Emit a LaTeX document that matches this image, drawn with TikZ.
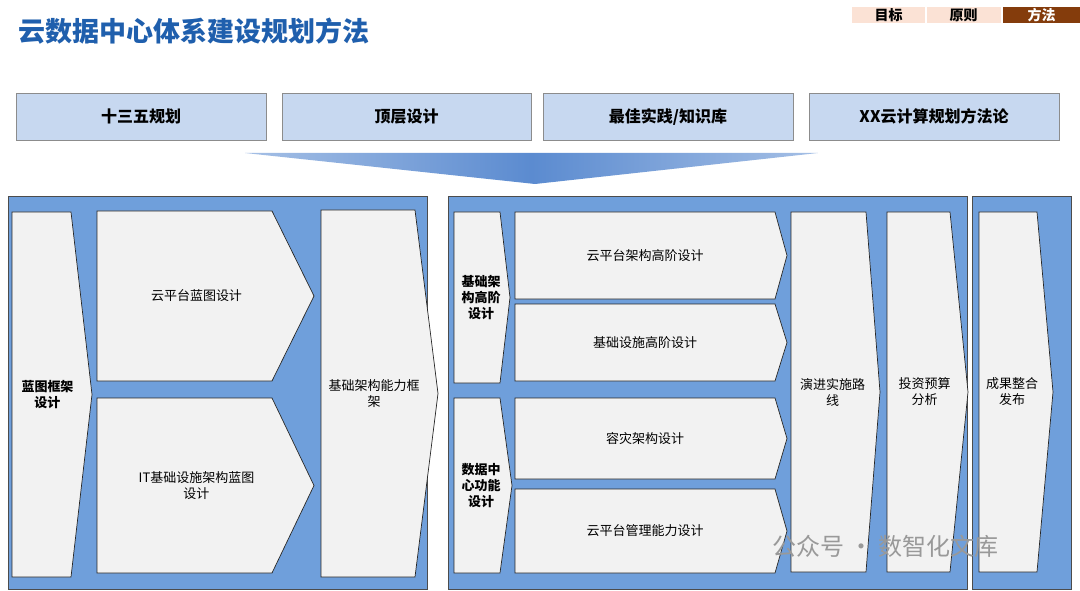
\documentclass[tikz,border=0pt]{standalone}
\usepackage{fontspec}
\setmainfont{Noto Sans CJK SC}
\begin{document}
\begin{tikzpicture}[x=1pt,y=-1pt,
  panel/.style={fill=panelc,draw=black!70,line width=0.8pt},
  chev/.style={fill=shapec,draw=black!85,line width=0.7pt},
  lbl/.style={font=\fontsize{13}{16}\selectfont,align=center,text width=#1},
  blbl/.style={font=\bfseries\fontsize{13}{16}\selectfont,align=center,text width=#1},
  top/.style={fill=topc,draw=black!45,line width=0.8pt,minimum height=47pt,font=\bfseries\fontsize{16}{18}\selectfont},
  tab/.style={minimum height=16pt,inner sep=0pt,font=\bfseries\fontsize{14}{16}\selectfont}]
\definecolor{panelc}{HTML}{6F9FDB}
\definecolor{shapec}{HTML}{F2F2F2}
\definecolor{topc}{HTML}{C7D8F0}
\definecolor{titc}{HTML}{1F5FAD}
\definecolor{tabl}{HTML}{FBE2D5}
\definecolor{tabd}{HTML}{843C0C}
\definecolor{arrc}{HTML}{5B8BD0}
\useasboundingbox (0,0) rectangle (1080,591);
\fill[white] (0,0) rectangle (1080,591);
\node[anchor=west,text=titc,font=\bfseries\fontsize{27}{30}\selectfont,inner sep=0pt] (title) at (18,31) {云数据中心体系建设规划方法};
\node[tab,fill=tabl,minimum width=73pt] (t1) at (888.5,15) {目标};
\node[tab,fill=tabl,minimum width=74pt] (t2) at (963.5,15) {原则};
\node[tab,fill=tabd,text=white,minimum width=77pt] (t3) at (1041.5,15) {方法};
\node[top,minimum width=250pt] (b1) at (141,116.5) {十三五规划};
\node[top,minimum width=249pt] (b2) at (406.5,116.5) {顶层设计};
\node[top,minimum width=250pt] (b3) at (668,116.5) {最佳实践/知识库};
\node[top,minimum width=250pt] (b4) at (934,116.5) {XX云计算规划方法论};
\shade[left color=arrc!55,right color=arrc!55,middle color=arrc] (245,153) -- (818,153) -- (535,184) -- cycle;
\draw[panel] (8,196) rectangle (427,589);
\draw[panel] (448,196) rectangle (967,589);
\draw[panel] (972,196) rectangle (1071,589);
\newcommand{\chv}[6]{%
  \draw[chev] (#2,#5) -- (#3,#5) -- (#4,{(#5+#6)/2}) -- (#3,#6) -- (#2,#6) -- cycle;
  \coordinate (#1) at ({(#2+#3)/2},{(#5+#6)/2});}
\chv{c1}{12}{71}{92}{212}{577}
\node[blbl=60pt] (n1) at ([xshift=6pt]c1) {蓝图框架\\设计};
\chv{c2}{97}{272}{314}{211}{381}
\node[lbl=180pt] (n2) at ([xshift=12pt]c2) {云平台蓝图设计};
\chv{c3}{97}{272}{314}{398}{573}
\node[lbl=180pt] (n3) at ([xshift=12pt]c3) {IT基础设施架构蓝图\\设计};
\chv{c4}{321}{415}{438}{210}{577}
\node[lbl=110pt] (n4) at ([xshift=6pt]c4) {基础架构能力框\\架};
\chv{c5}{454}{500}{510}{212}{383}
\node[blbl=55pt] (n5) at ([xshift=4pt]c5) {基础架\\构高阶\\设计};
\chv{c6}{454}{500}{512}{398}{573}
\node[blbl=55pt] (n6) at ([xshift=4pt]c6) {数据中\\心功能\\设计};
\chv{c7}{515}{775}{787}{212}{299}
\node[lbl=200pt] (n7) at (c7) {云平台架构高阶设计};
\chv{c8}{515}{775}{787}{304}{381}
\node[lbl=200pt] (n8) at (c8) {基础设施高阶设计};
\chv{c9}{515}{775}{787}{398}{479}
\node[lbl=200pt] (n9) at (c9) {容灾架构设计};
\chv{c10}{515}{775}{787}{489}{573}
\node[lbl=200pt] (n10) at (c10) {云平台管理能力设计};
\chv{c11}{791}{866}{880}{212}{572}
\node[lbl=80pt] (n11) at ([xshift=4pt]c11) {演进实施路\\线};
\chv{c12}{887}{950}{968}{212}{572}
\node[lbl=80pt] (n12) at ([xshift=6pt]c12) {投资预算\\分析};
\chv{c13}{979}{1037}{1053}{212}{572}
\node[lbl=80pt] (n13) at ([xshift=4pt]c13) {成果整合\\发布};
\node[anchor=west,text=black!40,font=\fontsize{24}{26}\selectfont,inner sep=0pt] (wm) at (772,546) {公众号 · 数智化文库};
\end{tikzpicture}
\end{document}
